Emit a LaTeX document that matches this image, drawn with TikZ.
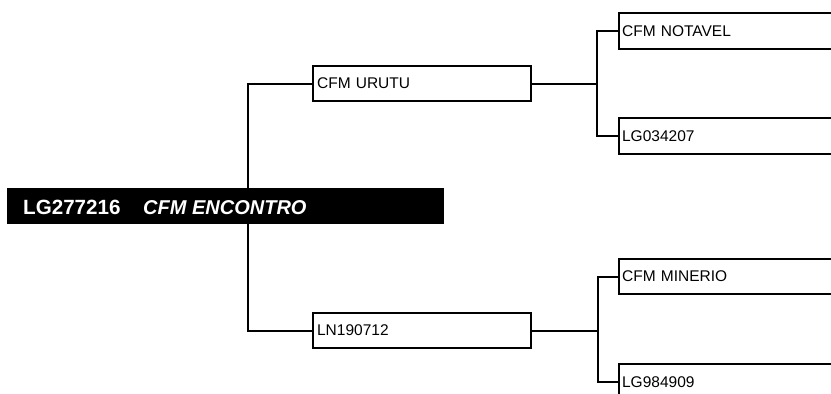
\documentclass[tikz,border=0pt]{standalone}
\usepackage{fontspec}
\setmainfont{Liberation Sans}
\begin{document}
\begin{tikzpicture}[x=1pt,y=-1pt,
  conn/.style={line width=2.2pt},
  gbox/.style={draw,line width=2.2pt,rectangle,anchor=north west,minimum height=35pt,
    text width=#1,align=left,inner xsep=3pt,inner ysep=0pt,
    font=\fontsize{15.5}{18}\selectfont},
  gbox/.default=210pt]
\useasboundingbox (0,0) rectangle (831,394);
\clip (0,0) rectangle (831,394);
\fill[white] (0,0) rectangle (831,394);
% second generation
\node[gbox=210pt,minimum width=218pt] (urutu) at (312,65) {CFM URUTU};
\node[gbox=210pt,minimum width=218pt] (ln) at (312,312) {LN190712};
% third generation
\node[gbox=300pt,minimum width=300pt,minimum height=36pt] (notavel) at (618,12) {CFM NOTAVEL};
\node[gbox=300pt,minimum width=300pt,minimum height=36pt] (lg034) at (618,117) {LG034207};
\node[gbox=300pt,minimum width=300pt,minimum height=35pt] (minerio) at (618,258) {CFM MINERIO};
\node[gbox=300pt,minimum width=300pt,minimum height=36pt] (lg984) at (618,363) {LG984909};
% connectors
\coordinate (trunk) at (248,206);
\draw[conn] (urutu.west) -| (trunk) |- (ln.west);
\draw[conn] (urutu.east) -- ++(65,0) coordinate (j1);
\draw[conn] (notavel.west) -| (j1) |- (lg034.west);
\draw[conn] (ln.east) -- ++(66,0) coordinate (j2);
\draw[conn] (minerio.west) -| (j2) |- (lg984.west);
% root bar
\node[fill=black,rectangle,anchor=north west,minimum width=437pt,minimum height=36pt,inner sep=0pt] (root) at (7,188) {};
\node[text=white,anchor=base west,inner sep=0pt,font=\fontsize{20.6}{24}\selectfont\bfseries] (rootid) at (23,214) {LG277216};
\node[text=white,anchor=base west,inner sep=0pt,font=\fontsize{20}{24}\selectfont\bfseries\itshape] (rootname) at (143,214) {CFM ENCONTRO};
\end{tikzpicture}
\end{document}
